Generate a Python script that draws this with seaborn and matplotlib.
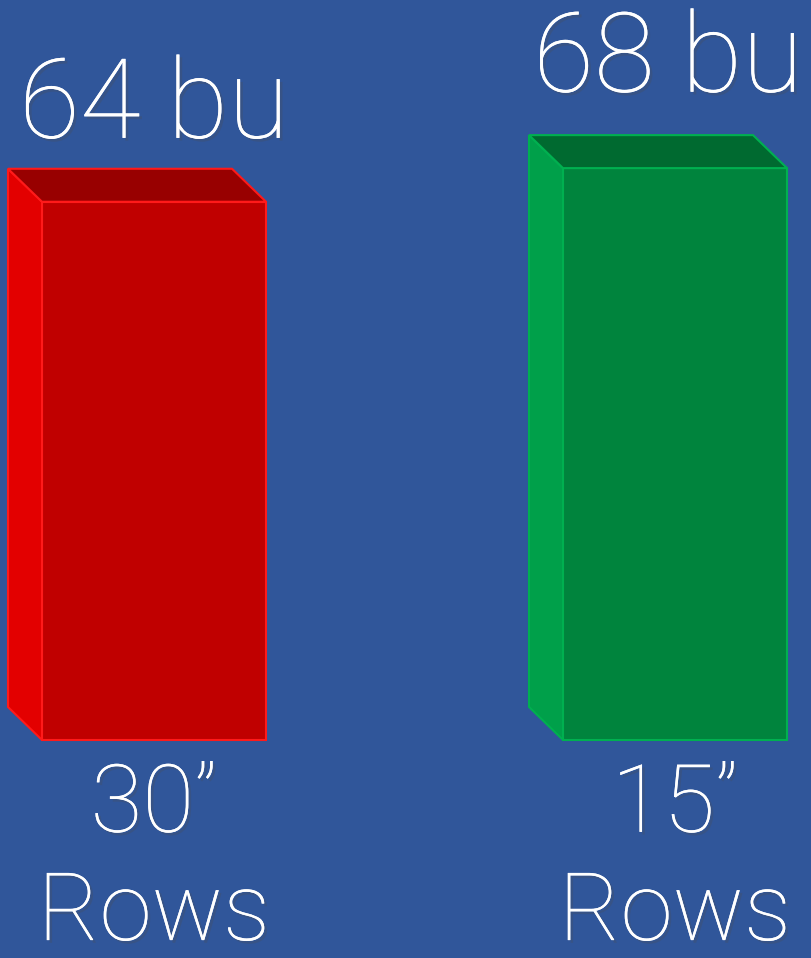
import matplotlib
matplotlib.use("Agg")
import matplotlib.pyplot as plt
import matplotlib.patheffects as pe
from matplotlib.patches import Polygon
import seaborn as sns
import pandas as pd

# ---- data ----
categories = ["30”\nRows", "15”\nRows"]
yields = [64, 68]
value_labels = ["64 bu", "68 bu"]

# ---- styles ----
bg = "#30569A"
front_colors = ["#C00000", "#00843D"]
side_colors = ["#E30000", "#00A04A"]
top_colors = ["#980000", "#006A30"]
edge_colors = ["#FF1A1A", "#00B050"]

sns.set_theme(style="white")
plt.rcParams["font.family"] = ["Roboto", "DejaVu Sans"]
plt.rcParams["font.weight"] = "light"

W, H = 811, 958
fig = plt.figure(figsize=(W / 100, H / 100), dpi=100, facecolor=bg)
base_px = 740
ax = fig.add_axes([0, (H - base_px) / H, 1, base_px / H])
ax.set_facecolor(bg)

df = pd.DataFrame({"rows": categories, "yield": yields})
sns.barplot(data=df, x="rows", y="yield", hue="rows", palette=front_colors,
            width=0.43, legend=False, ax=ax, saturation=1)

ax.set_xlim(-0.2956, 1.261)
ax.set_ylim(0, base_px / 8.41)
for s in ax.spines.values():
    s.set_visible(False)
ax.set_yticks([])
ax.set_xlabel("")
ax.set_ylabel("")
ax.tick_params(axis="x", length=0, pad=15, labelsize=68, labelcolor="white")
shadow = [pe.withSimplePatchShadow(offset=(2, -2), alpha=0.25), pe.Normal()]
for lab in ax.get_xticklabels():
    lab.set_linespacing(1.25)
    lab.set_fontweight("light")
    lab.set_path_effects(shadow)

fig.canvas.draw()
inv = ax.transData.inverted()
o = inv.transform((0, 0))
d = inv.transform((34, 33))
dx, dy = d[0] - o[0], d[1] - o[1]

for i, p in enumerate(ax.patches):
    x0 = p.get_x()
    x1 = x0 + p.get_width()
    h = p.get_height()
    p.set_edgecolor(edge_colors[i])
    p.set_linewidth(1.5)
    p.set_clip_on(False)
    side = Polygon([(x0, 0), (x0, h), (x0 - dx, h + dy), (x0 - dx, dy)], closed=True,
                   facecolor=side_colors[i], edgecolor=edge_colors[i], lw=1.5, clip_on=False)
    top = Polygon([(x0, h), (x1, h), (x1 - dx, h + dy), (x0 - dx, h + dy)], closed=True,
                  facecolor=top_colors[i], edgecolor=edge_colors[i], lw=1.5, clip_on=False)
    ax.add_patch(side)
    ax.add_patch(top)
    ax.annotate(value_labels[i], xy=(x0 + p.get_width() / 2, h), xytext=(-5 * i, 46 + 9 * i),
                textcoords="offset points", ha="center", va="baseline", fontsize=80,
                fontweight="light", color="white", annotation_clip=False,
                path_effects=shadow)

fig.savefig("out.png", dpi=100, facecolor=bg)
